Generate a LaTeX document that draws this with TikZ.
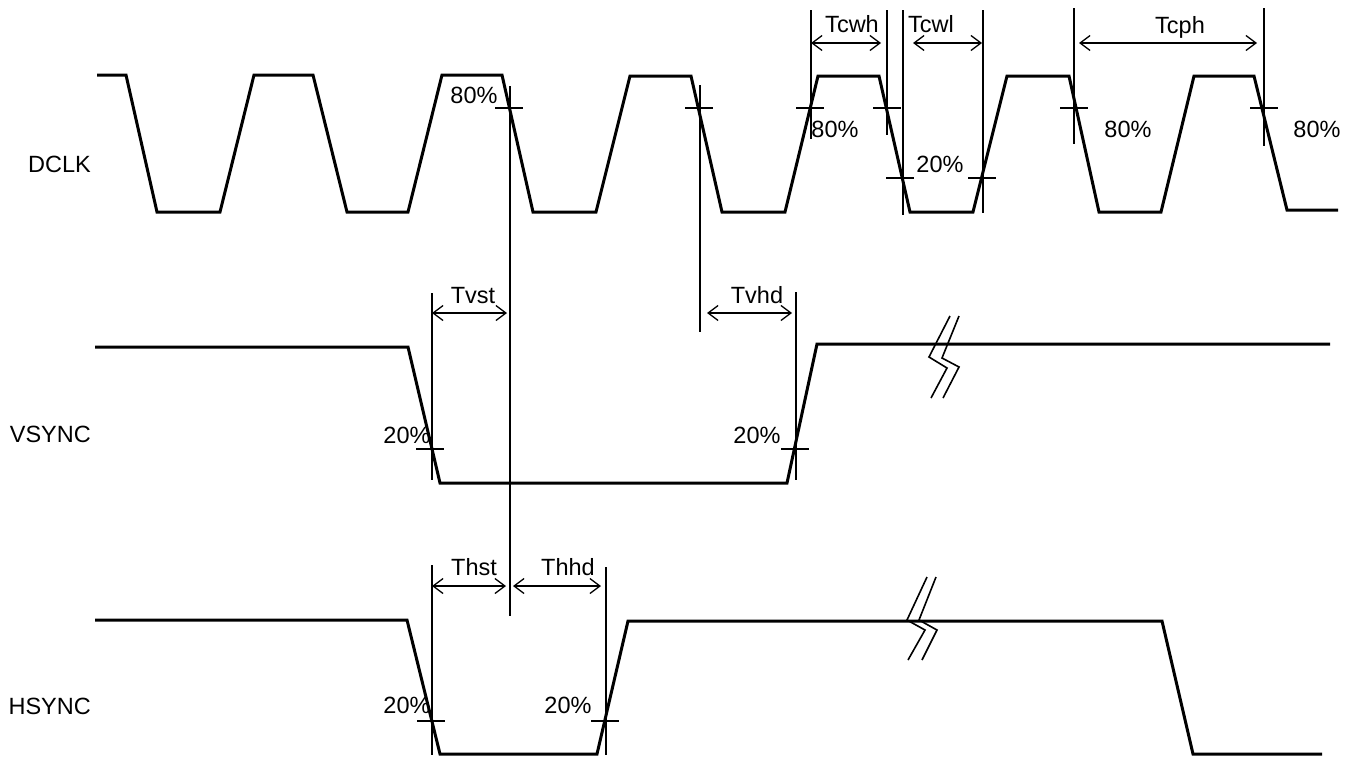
\documentclass[tikz,border=0pt]{standalone}
\usepackage{fontspec}
\setmainfont{Liberation Sans}
\usetikzlibrary{arrows.meta}
\begin{document}
\begin{tikzpicture}[x=1pt,y=-1pt,
  sig/.style={line width=3pt,line join=miter},
  thinline/.style={line width=1.3pt},
  brk/.style={line width=1.6pt},
  dimarrow/.style={line width=1.3pt,{Straight Barb[length=10pt,width=15pt]}-{Straight Barb[length=10pt,width=15pt]}},
  lbl/.style={anchor=base,inner sep=0pt,font=\fontsize{23.5}{23.5}\selectfont},
  siglbl/.style={anchor=base east,inner sep=0pt,font=\fontsize{23.5}{23.5}\selectfont}]
\useasboundingbox (0,0) rectangle (1355,758);
% signal names
\node[siglbl] (dclk) at (91,172) {DCLK};
\node[siglbl] (vsync) at (91,442) {VSYNC};
\node[siglbl] (hsync) at (91,714) {HSYNC};
% DCLK waveform
\draw[sig] (97,75) -- (126,75) -- (157,212) -- (220,212) -- (254,75) -- (313,75) -- (347,212) -- (408,212)
  -- (442,75) -- (502,75) -- (533,212) -- (596,212) -- (630,76) -- (691,76) -- (722,212) -- (785,212)
  -- (818,76) -- (879,76) -- (910,212) -- (973,212) -- (1007,76) -- (1069,76) -- (1099,212) -- (1161,212)
  -- (1194,76) -- (1254,76) -- (1287,210) -- (1338,210);
% VSYNC waveform
\draw[sig] (95,347) -- (408,347) -- (440,483) -- (787,483) -- (817,344) -- (1330,344);
% HSYNC waveform
\draw[sig] (95,620) -- (407,620) -- (440,754) -- (597,754) -- (628,621) -- (1162,621) -- (1193,754) -- (1322,754);
% break marks
\draw[brk] (950,316) -- (929,357) -- (947,368) -- (931,398);
\draw[brk] (959,316) -- (942,358) -- (959,367) -- (943,398);
\draw[brk] (927,577) -- (907,620) -- (925,630) -- (908,660);
\draw[brk] (936,577) -- (919,620) -- (937,630) -- (922,660);
% reference vertical lines
\coordinate (v510t) at (510,86);   \coordinate (v510b) at (510,616);
\coordinate (v700t) at (700,85);   \coordinate (v700b) at (700,332);
\coordinate (v811t) at (811,10);   \coordinate (v811b) at (811,139);
\coordinate (v887t) at (887,10);   \coordinate (v887b) at (887,135);
\coordinate (v903t) at (903,10);   \coordinate (v903b) at (903,215);
\coordinate (v983t) at (983,10);   \coordinate (v983b) at (983,213);
\coordinate (v1074t) at (1074,8);  \coordinate (v1074b) at (1074,144);
\coordinate (v1264t) at (1264,8);  \coordinate (v1264b) at (1264,146);
\coordinate (vv432t) at (432,293); \coordinate (vv432b) at (432,480);
\coordinate (vv796t) at (796,292); \coordinate (vv796b) at (796,480);
\coordinate (vh432t) at (432,565); \coordinate (vh432b) at (432,755);
\coordinate (vh606t) at (606,567); \coordinate (vh606b) at (606,755);
\foreach \a in {v510,v700,v811,v887,v903,v983,v1074,v1264,vv432,vv796,vh432,vh606}
  \draw[thinline] (\a t) -- (\a b);
% crossing ticks
\foreach \x/\y in {509/108,699/108,810/108,887/108,1074/108,1264/108,900/178,982/178,430/449,795/449,431/721,605/721}{
  \coordinate (tl) at (\x-14,\y); \coordinate (tr) at (\x+14,\y);
  \draw[thinline] (tl) -- (tr);
}
% dimension arrows
\coordinate (cwhL) at (811,43);  \coordinate (cwhR) at (881,43);
\coordinate (cwlL) at (913,43);  \coordinate (cwlR) at (982,43);
\coordinate (cphL) at (1079,43); \coordinate (cphR) at (1257,43);
\coordinate (vstL) at (432,313); \coordinate (vstR) at (507,313);
\coordinate (vhdL) at (707,313); \coordinate (vhdR) at (792,313);
\coordinate (hstL) at (432,586); \coordinate (hstR) at (506,586);
\coordinate (hhdL) at (513,586); \coordinate (hhdR) at (601,586);
\draw[dimarrow] (cwhL) -- (cwhR);
\draw[dimarrow] (cwlL) -- (cwlR);
\draw[dimarrow] (cphL) -- (cphR);
\draw[dimarrow] (vstL) -- (vstR);
\draw[dimarrow] (vhdL) -- (vhdR);
\draw[dimarrow] (hstL) -- (hstR);
\draw[dimarrow] (hhdL) -- (hhdR);
% dimension labels
\node[lbl] (tcwh) at (852,32) {Tcwh};
\node[lbl] (tcwl) at (931,32) {Tcwl};
\node[lbl] (tcph) at (1180,33) {Tcph};
\node[lbl] (tvst) at (473,303) {Tvst};
\node[lbl] (tvhd) at (757,303) {Tvhd};
\node[lbl] (thst) at (474,575) {Thst};
\node[lbl] (thhd) at (568,575) {Thhd};
% level labels
\node[lbl] (p1) at (474,103) {80\%};
\node[lbl] (p2) at (835,137) {80\%};
\node[lbl] (p3) at (940,172) {20\%};
\node[lbl] (p4) at (1128,137) {80\%};
\node[lbl] (p5) at (1317,137) {80\%};
\node[lbl] (p6) at (407,443) {20\%};
\node[lbl] (p7) at (757,443) {20\%};
\node[lbl] (p8) at (407,713) {20\%};
\node[lbl] (p9) at (568,713) {20\%};
\end{tikzpicture}
\end{document}
